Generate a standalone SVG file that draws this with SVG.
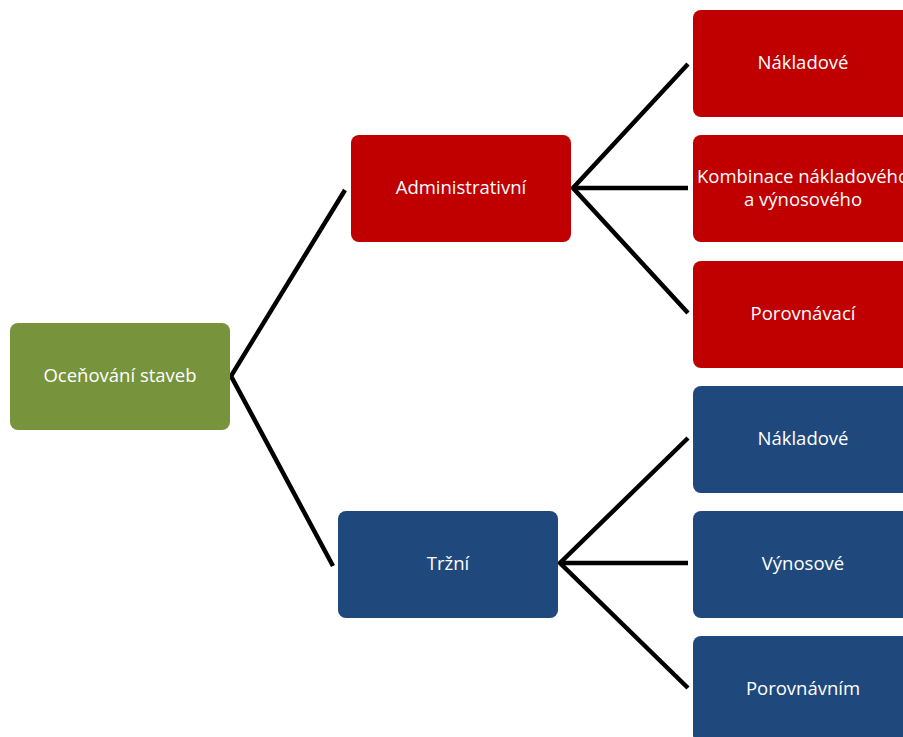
<svg xmlns="http://www.w3.org/2000/svg" width="903" height="737" viewBox="0 0 903 737">
<style>
.n{stroke:none}
.red{fill:#C00000}
.blue{fill:#1F497D}
.green{fill:#77933C}
text{font-family:"Open Sans","Liberation Sans",sans-serif;font-size:18.5px;fill:#fff;text-anchor:middle}
.c{stroke:#000;stroke-width:4.5;fill:none;stroke-linejoin:miter}
</style>
<rect width="903" height="737" fill="#fff"/>
<g id="connectors">
<polyline class="c" points="345,190 231,376 333,566"/>
<polyline class="c" points="688,64 573,188 688,313"/>
<line class="c" x1="573" y1="188" x2="688" y2="188"/>
<polyline class="c" points="688,438 560,563 688,688"/>
<line class="c" x1="560" y1="563" x2="688" y2="563"/>
</g>
<g id="root"><rect class="n green" x="10" y="323" width="220" height="107" rx="8"/><text x="120" y="382">Oceňování staveb</text></g>
<g id="admin"><rect class="n red" x="351" y="135" width="220" height="107" rx="8"/><text x="461" y="194">Administrativní</text></g>
<g id="trzni"><rect class="n blue" x="338" y="511" width="220" height="107" rx="8"/><text x="448" y="570">Tržní</text></g>
<g id="a1"><rect class="n red" x="693" y="10" width="220" height="107" rx="8"/><text x="803" y="69">Nákladové</text></g>
<g id="a2"><rect class="n red" x="693" y="135" width="220" height="107" rx="8"/><text x="803" y="183">Kombinace nákladového</text><text x="803" y="206">a výnosového</text></g>
<g id="a3"><rect class="n red" x="693" y="261" width="220" height="107" rx="8"/><text x="803" y="320">Porovnávací</text></g>
<g id="t1"><rect class="n blue" x="693" y="386" width="220" height="107" rx="8"/><text x="803" y="445">Nákladové</text></g>
<g id="t2"><rect class="n blue" x="693" y="511" width="220" height="107" rx="8"/><text x="803" y="570">Výnosové</text></g>
<g id="t3"><rect class="n blue" x="693" y="636" width="220" height="107" rx="8"/><text x="803" y="695">Porovnávním</text></g>
</svg>
